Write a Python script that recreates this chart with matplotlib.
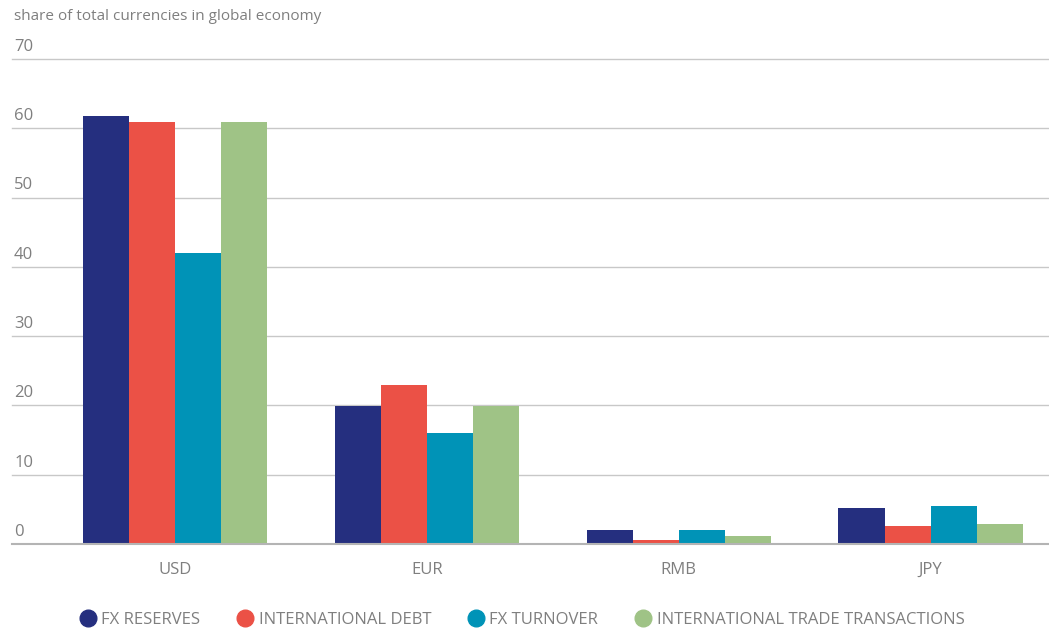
import numpy as np
from matplotlib import pyplot as plt

currencies = ["USD", "EUR", "RMB", "JPY"]
series = ["FX RESERVES", "INTERNATIONAL DEBT", "FX TURNOVER", "INTERNATIONAL TRADE TRANSACTIONS"]
fx_reserves = [61.8, 19.9, 2.0, 5.2]
intl_debt = [60.9, 22.9, 0.6, 2.6]
fx_turnover = [42.0, 16.0, 2.0, 5.5]
trade = [60.9, 19.9, 1.15, 2.9]
colors = ["#252f7f", "#eb5146", "#0093b7", "#9fc386"]

plt.rcParams['font.family'] = ['Open Sans', 'DejaVu Sans']
grey = "#7f7f7f"

fig = plt.figure(figsize=(10.49, 6.3), dpi=100)
ax = fig.add_axes([12 / 1049, 1 - 544 / 630, 1 - 12 / 1049, (544 - 59) / 630])

x = np.arange(len(currencies))
w = 0.183
values = [fx_reserves, intl_debt, fx_turnover, trade]
for i, vals in enumerate(values):
    ax.bar(x + (i - 1.5) * w, vals, width=w, color=colors[i], label=series[i], zorder=3)

ax.set_xlim(-0.647, 3.47)
ax.set_ylim(0, 70)
yt = np.arange(0, 71, 10)
ax.set_yticks(yt)
ax.set_yticklabels([])
ax.tick_params(axis="y", length=0)
for v in yt[1:]:
    ax.axhline(v, color="#c8c8c8", lw=1, zorder=1, clip_on=False)
for v in yt:
    ax.text(0.002, v + 0.6, str(v), transform=ax.get_yaxis_transform(),
            color=grey, fontsize=12, ha="left", va="bottom")

ax.set_xticks(x)
ax.set_xticklabels(currencies, color=grey, fontsize=12)
ax.tick_params(axis="x", length=0, pad=13)

for s in ["top", "right", "left"]:
    ax.spines[s].set_visible(False)
ax.spines["bottom"].set_color("#b4b4b4")
ax.spines["bottom"].set_linewidth(1.5)
ax.spines["bottom"].set_zorder(4)

fig.text(14 / 1049, 1 - 17 / 630, "share of total currencies in global economy",
         color=grey, fontsize=11, ha="left", va="center")

handles = [plt.Line2D([], [], marker="o", ls="", color=c, markersize=12) for c in colors]
fig.legend(handles, series, loc="center", bbox_to_anchor=(522 / 1049, 1 - 620 / 630),
           ncol=4, frameon=False, fontsize=12, labelcolor=grey, handletextpad=0.3,
           columnspacing=2.2, handlelength=1.0)

fig.savefig("out.png", dpi=100)
